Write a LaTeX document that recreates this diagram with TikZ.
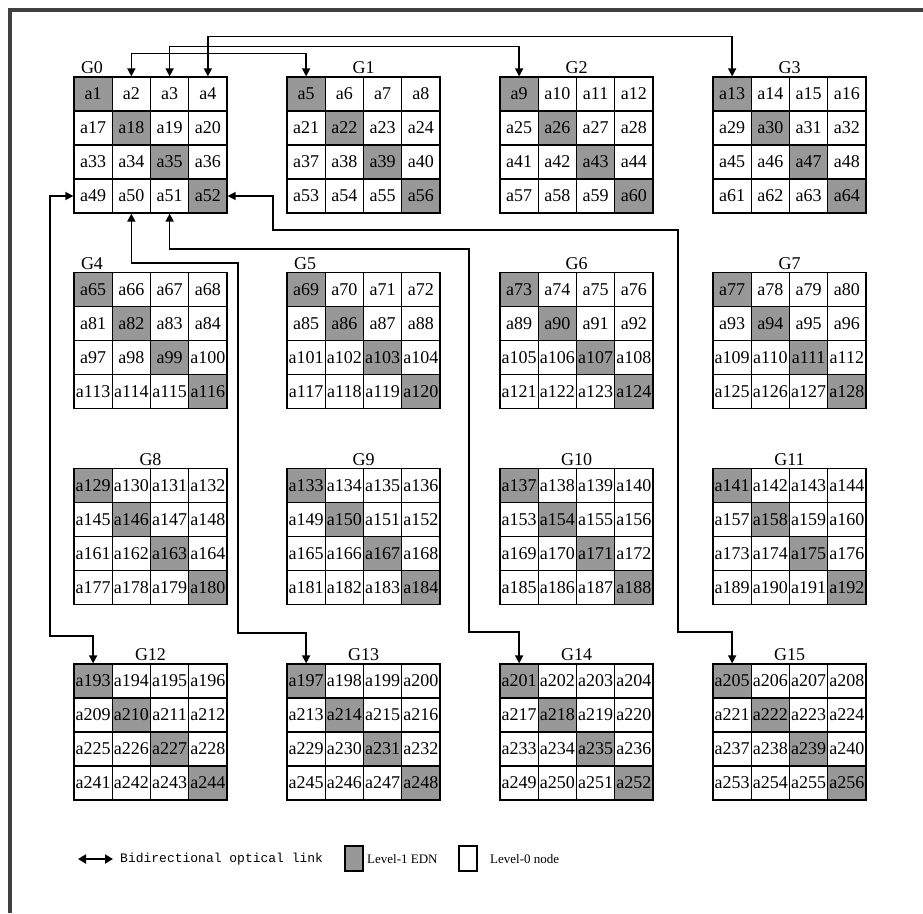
\documentclass[tikz,border=0pt]{standalone}
\usepackage{fontspec}
\setmainfont{Liberation Serif}
\setmonofont{Liberation Mono}
\usetikzlibrary{arrows.meta, positioning}

\definecolor{edngray}{RGB}{152,152,152}

\begin{document}
\begin{tikzpicture}[x=1pt, y=-1pt,
  cell/.style={draw, line width=1.2pt, minimum width=38.25pt, minimum height=34pt, inner sep=0pt, font=\fontsize{18}{18}\selectfont},
  glabel/.style={inner sep=0pt, font=\fontsize{18}{18}\selectfont},
  link/.style={line width=1.4pt, {Triangle[length=8pt,width=8pt]}-{Triangle[length=8pt,width=8pt]}},
  keybox/.style={draw, line width=1.2pt, minimum width=18pt, minimum height=25pt, inner sep=0pt},
  keytext/.style={anchor=west, inner sep=0pt, font=\fontsize{13}{13}\selectfont}]
\useasboundingbox (0,0) rectangle (923,913);
\draw[line width=3.5pt, black!75] (10,913) -- (10,10) -- (923,10);

% 16 groups of 4x4 nodes
\foreach \g in {0,...,15}{
  \pgfmathtruncatemacro{\gr}{div(\g,4)}
  \pgfmathtruncatemacro{\gc}{mod(\g,4)}
  \pgfmathsetmacro{\lx}{(\g==0||\g==4||\g==5) ? 18 : 76.5}
  \node[glabel] (g\g) at ({74+213*\gc+\lx},{68+195.67*\gr}) {G\g};
  \foreach \r in {0,...,3}{
    \foreach \c in {0,...,3}{
      \pgfmathtruncatemacro{\n}{64*\gr+16*\r+4*\gc+\c+1}
      \ifnum\r=\c \def\fc{edngray}\else \def\fc{white}\fi
      \node[cell, fill=\fc] (a\n) at ({74+213*\gc+38.25*(\c+0.5)},{77+195.67*\gr+34*(\r+0.5)}) {a\n};
    }
  }
}

\draw[link] (a4.north) -- ++(0,-40) -| (a13.north);
\draw[link] (a3.north) -- ++(0,-30) -| (a9.north);
\draw[link] (a2.north) -- ++(0,-23) -| (a5.north);
\draw[link] (a52.east) -| (273,230) -| (678,632) -| (a205.north);
\draw[link] (a51.south) |- (469,249) -- (469,632) -| (a201.north);
\draw[link] (a50.south) |- (238,263) -- (238,633) -| (a197.north);
\draw[link] (a49.west) -| (50,636) -| (a193.north);

% legend
\coordinate (k1) at (78,859);
\coordinate (k2) at (113,859);
\draw[link, {Triangle[length=8pt,width=9pt]}-{Triangle[length=8pt,width=9pt]}, line width=2.2pt] (k1) -- (k2);
\node[keytext, font=\ttfamily\fontsize{13}{13}\selectfont] (ktxt) at (120,859) {Bidirectional optical link};
\node[keybox, fill=edngray] (kedn) at (354,858.5) {};
\node[keytext] (kedntxt) at (367,859) {Level-1 EDN};
\node[keybox, fill=white] (knode) at (468,858.5) {};
\node[keytext] (knodetxt) at (490,859) {Level-0 node};
\end{tikzpicture}
\end{document}
